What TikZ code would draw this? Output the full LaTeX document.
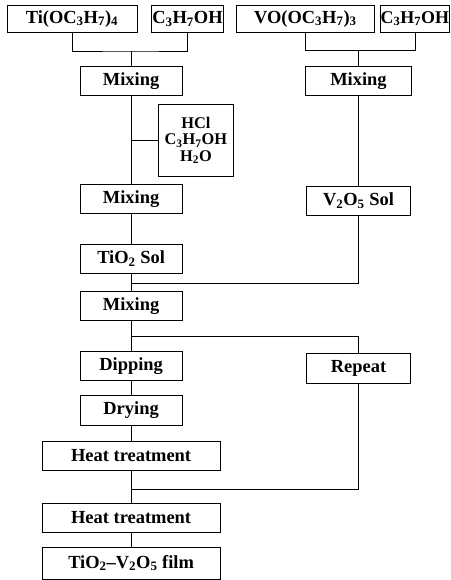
\documentclass[tikz,border=0pt]{standalone}
\usepackage{fontspec}
\setmainfont{Liberation Serif}
\usetikzlibrary{positioning}

\begin{document}
\begin{tikzpicture}[
  procbox/.style={draw, thick, minimum width=3.4cm, minimum height=0.97cm, inner xsep=1pt, align=center, font=\fontsize{17.5}{20}\selectfont\bfseries},
  chembox/.style={procbox, minimum height=0.9cm},
  link/.style={semithick}
]
  \useasboundingbox (0, 0) rectangle (15, -19.333);

  % Starting chemicals
  \node[chembox, minimum width=4.33cm] (tip) at (2.40, -0.62) {Ti(OC\textsubscript{3}H\textsubscript{7})\textsubscript{4}};
  \node[chembox, minimum width=2.37cm] (prl) at (6.25, -0.62) {C\textsubscript{3}H\textsubscript{7}OH};
  \node[chembox, minimum width=4.57cm] (vop) at (10.18, -0.62) {VO(OC\textsubscript{3}H\textsubscript{7})\textsubscript{3}};
  \node[chembox, minimum width=2.25cm, inner xsep=0pt, font=\fontsize{17}{20}\selectfont\bfseries] (prr) at (13.83, -0.62) {C\textsubscript{3}H\textsubscript{7}OH};

  \coordinate (jt) at (4.37, -1.70);
  \coordinate (jb) at (11.95, -1.67);

  % TiO2 branch
  \node[procbox] (mixa) at (4.37, -2.70) {Mixing};
  \node[procbox, minimum width=2.47cm, minimum height=2.43cm, font=\fontsize{15.5}{15.5}\selectfont\bfseries] (acid) at (6.53, -4.68) {HCl\\C\textsubscript{3}H\textsubscript{7}OH\\H\textsubscript{2}O};
  \node[procbox] (mixc) at (4.37, -6.63) {Mixing};
  \node[procbox] (tsol) at (4.37, -8.63) {TiO\textsubscript{2} Sol};

  % V2O5 branch
  \node[procbox, minimum width=3.55cm] (mixb) at (11.95, -2.70) {Mixing};
  \node[procbox, minimum width=3.47cm] (vsol) at (11.95, -6.70) {V\textsubscript{2}O\textsubscript{5} Sol};

  % Coating
  \coordinate (jv) at (4.37, -9.43);
  \node[procbox] (mixd) at (4.37, -10.20) {Mixing};
  \coordinate (jr) at (4.37, -11.20);
  \node[procbox] (dip) at (4.37, -12.20) {Dipping};
  \node[procbox, minimum width=3.47cm] (rep) at (11.95, -12.28) {Repeat};
  \node[procbox] (dry) at (4.37, -13.68) {Drying};
  \node[procbox, minimum width=5.93cm] (heata) at (4.37, -15.20) {Heat treatment};
  \coordinate (jh) at (4.37, -16.30);
  \node[procbox, minimum width=5.93cm] (heatb) at (4.37, -17.25) {Heat treatment};
  \node[procbox, minimum width=5.93cm, minimum height=1.07cm] (film) at (4.37, -18.77) {TiO\textsubscript{2}--V\textsubscript{2}O\textsubscript{5} film};

  \draw[link] (tip.south) |- (jt) -| (prl.south);
  \draw[link] (vop.south) |- (jb) -| (prr.south);
  \draw[link] (jt) -- (mixa);
  \draw[link] (jb) -- (mixb);
  \draw[link] (mixa) -- (mixc);
  \draw[link] (acid.west) -- (acid.west -| mixa.south);
  \draw[link] (mixc) -- (tsol);
  \draw[link] (mixb) -- (vsol);
  \draw[link] (tsol) -- (mixd);
  \draw[link] (vsol.south) |- (jv);
  \draw[link] (mixd) -- (dip);
  \draw[link] (jr) -| (rep.north);
  \draw[link] (dip) -- (dry);
  \draw[link] (dry) -- (heata);
  \draw[link] (rep.south) |- (jh);
  \draw[link] (heata) -- (heatb);
  \draw[link] (heatb) -- (film);
\end{tikzpicture}
\end{document}
